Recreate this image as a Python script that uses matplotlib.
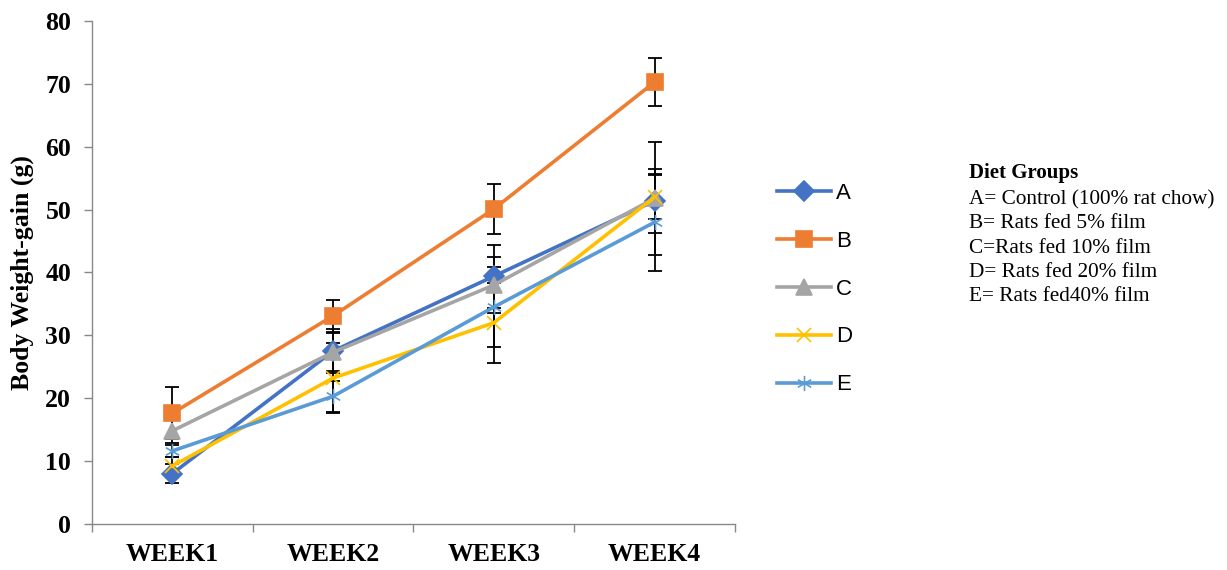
import numpy as np
import matplotlib
matplotlib.use('Agg')
import matplotlib.pyplot as plt
from matplotlib.path import Path

weeks = ['WEEK1', 'WEEK2', 'WEEK3', 'WEEK4']
groups = ['A', 'B', 'C', 'D', 'E']

gain_a = [8.0, 27.5, 39.4, 51.4]
gain_b = [17.6, 33.1, 50.1, 70.3]
gain_c = [14.8, 27.3, 38.0, 51.8]
gain_d = [9.2, 23.2, 32.0, 52.0]
gain_e = [11.6, 20.3, 34.5, 48.0]

err_a = [1.5, 3.5, 5.0, 5.1]
err_b = [4.1, 2.5, 4.0, 3.8]
err_c = [2.0, 3.0, 4.4, 9.0]
err_d = [1.4, 5.5, 6.4, 3.5]
err_e = [1.0, 2.5, 6.3, 7.7]

legend_title = 'Diet Groups'
legend_lines = [
    'A= Control (100% rat chow)',
    'B= Rats fed 5% film',
    'C=Rats fed 10% film',
    'D= Rats fed 20% film',
    'E= Rats fed40% film',
]

# excel-ish asterisk marker (6 spokes)
asterisk = Path(
    [(0, -1), (0, 1), (-0.87, -0.5), (0.87, 0.5), (-0.87, 0.5), (0.87, -0.5)],
    [Path.MOVETO, Path.LINETO] * 3,
)

series = [
    (gain_a, err_a, '#4472C4', 'D', 10),
    (gain_b, err_b, '#ED7D31', 's', 12),
    (gain_c, err_c, '#A5A5A5', '^', 12),
    (gain_d, err_d, '#FFC000', 'x', 10),
    (gain_e, err_e, '#5B9BD5', asterisk, 11),
]

fig = plt.figure(figsize=(12.27, 5.70), dpi=100)
ax = fig.add_axes([0.075, 0.081, 0.524, 0.882])

x = np.arange(len(weeks))
for name, (vals, errs, clr, mk, ms) in zip(groups, series):
    ax.errorbar(x, vals, yerr=errs, fmt='none', ecolor='black',
                elinewidth=1.3, capsize=5, capthick=1.3, zorder=2)
    ax.plot(x, vals, color=clr, lw=2.6, marker=mk, markersize=ms,
            markerfacecolor=clr, markeredgecolor=clr,
            markeredgewidth=1.2, label=name, zorder=3)

ax.set_xlim(-0.5, 3.5)
ax.set_ylim(0, 80)
ax.set_yticks(np.arange(0, 81, 10))
ax.set_xticks(x)
ax.set_xticklabels(weeks)
ax.set_xticks(np.arange(-0.5, 3.6, 1), minor=True)
ax.tick_params(axis='x', which='major', length=0, pad=14)
ax.tick_params(axis='x', which='minor', length=6, color='#888888', width=1)
ax.tick_params(axis='y', length=6, color='#888888', width=1, pad=9)
for lbl in ax.get_xticklabels() + ax.get_yticklabels():
    lbl.set_fontfamily('Liberation Serif')
    lbl.set_fontweight('bold')
    lbl.set_fontsize(18.5)

for side in ['top', 'right']:
    ax.spines[side].set_visible(False)
for side in ['left', 'bottom']:
    ax.spines[side].set_color('#888888')
    ax.spines[side].set_linewidth(1)

ax.set_ylabel('Body Weight-gain (g)', fontfamily='Liberation Serif',
              fontweight='bold', fontsize=18.5, labelpad=8)

leg = ax.legend(loc='center left', bbox_to_anchor=(1.034, 0.467), frameon=False,
                prop={'family': 'Liberation Sans', 'size': 16},
                handlelength=2.45, handletextpad=0.2, labelspacing=1.21)

fig.text(0.79, 0.697, legend_title, fontfamily='Liberation Serif',
         fontweight='bold', fontsize=15, va='center', ha='left')
fig.text(0.79, 0.667, '\n'.join(legend_lines), fontfamily='Liberation Serif',
         fontsize=15.3, va='top', ha='left', linespacing=1.38)

fig.savefig('out.png', dpi=100)
